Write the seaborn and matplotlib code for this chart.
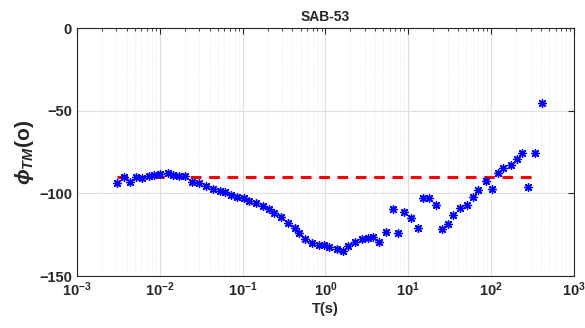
import numpy as np
import pandas as pd
import matplotlib
matplotlib.use("Agg")
import matplotlib.pyplot as plt
import seaborn as sns
from matplotlib.ticker import LogLocator, FixedLocator, NullFormatter

# Period (s) and TM phase (degrees)
period = [
    0.00306, 0.00372, 0.00436, 0.00514, 0.00618, 0.00736, 0.00847, 0.0100,
    0.0125, 0.0145, 0.0171, 0.0200, 0.0245, 0.0295, 0.0358, 0.0440, 0.0528,
    0.0612, 0.0716, 0.0863, 0.104, 0.121, 0.144, 0.176, 0.211, 0.241, 0.292,
    0.352, 0.424, 0.486, 0.564, 0.684, 0.830, 0.955, 1.117, 1.368, 1.618,
    1.892, 2.254, 2.742, 3.236, 3.784, 4.477, 5.383, 6.592, 7.586, 8.872,
    10.86, 13.09, 15.03, 17.58, 21.73, 25.47, 29.79, 34.83, 42.66, 51.88,
    60.26, 69.66, 86.30, 102.8, 120.2, 140.6, 172.6, 205.6, 234.4, 276.7,
    342.0, 408.3,
]
phase = [
    -94.0, -90.0, -93.0, -90.3, -90.9, -89.3, -88.9, -88.3, -87.9, -88.7,
    -89.5, -89.5, -93.0, -94.0, -95.4, -97.2, -98.8, -99.4, -101.0, -102.2,
    -102.8, -104.5, -106.1, -107.5, -109.7, -112.1, -114.5, -118.2, -120.8,
    -124.2, -127.6, -129.9, -131.1, -131.5, -132.7, -133.9, -134.7, -131.9,
    -129.6, -127.8, -126.9, -126.6, -129.5, -123.2, -109.5, -123.8, -111.5,
    -115.1, -120.8, -102.8, -103.0, -107.1, -121.6, -118.6, -113.1, -108.7,
    -106.9, -102.1, -98.0, -92.4, -97.4, -87.9, -84.5, -83.1, -79.1, -75.8,
    -96.4, -75.8, -45.6,
]
ref_period = [0.00306, 320.0]
ref_phase = [-90.0, -90.0]
xticks = [1e-3, 1e-2, 1e-1, 1e0, 1e1, 1e2, 1e3]
yticks = [-150, -100, -50, 0]

df = pd.DataFrame({"T": period, "phi": phase})
ref = pd.DataFrame({"T": ref_period, "phi": ref_phase})

sns.set_style("white")
plt.rcParams["font.family"] = ["Liberation Sans", "DejaVu Sans"]
plt.rcParams["mathtext.fontset"] = "custom"
plt.rcParams["mathtext.it"] = "Liberation Sans:italic:bold"
plt.rcParams["mathtext.rm"] = "Liberation Sans:bold"

fig = plt.figure(figsize=(5.85, 3.28), dpi=100)
ax = fig.add_axes([0.1316, 0.1585, 0.8494, 0.7561])

sns.lineplot(data=ref, x="T", y="phi", ax=ax, color="red", linewidth=2.2,
             linestyle=(0, (3.5, 2.5)), zorder=2)
sns.scatterplot(data=df, x="T", y="phi", ax=ax, marker=(8, 2, 0), s=32,
                color="blue", edgecolor="blue", linewidth=1.0, zorder=3)

ax.set_xscale("log")
ax.set_xlim(1e-3, 1e3)
ax.set_ylim(-150, 0)
ax.yaxis.set_major_locator(FixedLocator(yticks))
ax.xaxis.set_major_locator(FixedLocator(xticks))
ax.xaxis.set_minor_locator(LogLocator(base=10, subs=np.arange(2, 10), numticks=20))
ax.xaxis.set_minor_formatter(NullFormatter())
ax.set_xticks(xticks)
ax.set_xticklabels([f"$10^{{{int(np.log10(t))}}}$" for t in xticks])

ax.grid(True, which="major", color="#dedede", linewidth=0.8)
ax.grid(True, which="minor", axis="x", color="#e2e2e2", linestyle=(0, (1, 2)), linewidth=0.6)
ax.set_axisbelow(True)

ax.tick_params(which="both", direction="in", top=True, right=True,
               labelsize=10.5, colors="#262626", labelcolor="#262626")
ax.tick_params(which="major", length=4, width=0.8)
ax.tick_params(which="minor", length=2, width=0.6)
for lbl in ax.get_xticklabels() + ax.get_yticklabels():
    lbl.set_fontweight("bold")
for sp in ax.spines.values():
    sp.set_color("#262626")
    sp.set_linewidth(0.8)

ax.set_title("SAB-53", fontsize=10, fontweight="bold", color="#262626", pad=5)
ax.set_xlabel("T(s)", fontsize=10.5, fontweight="bold", color="#262626", labelpad=2)
ax.set_ylabel(r"$\phi_{TM}$(o)", fontsize=15, fontweight="bold", color="#262626", labelpad=2)

fig.savefig("out.png", dpi=100)
